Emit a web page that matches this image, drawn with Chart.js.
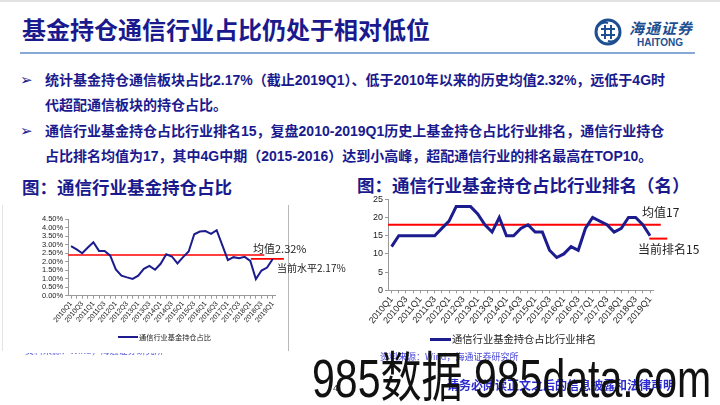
<!DOCTYPE html>
<html>
<head>
<meta charset="utf-8">
<script src="https://cdn.jsdelivr.net/npm/chart.js@4.4.1/dist/chart.umd.min.js"></script>
<style>
  body { margin: 0; background: #fff; }
  #slide { position: relative; width: 720px; height: 405px; overflow: hidden; background: #fff;
           font-family: "Liberation Sans", "Noto Sans CJK SC", sans-serif; }
  .abs { position: absolute; white-space: nowrap; }
  .navy { color: #1a1a8e; }
  .body { font-size: 14px; font-weight: bold; line-height: 20px; }
  canvas { position: absolute; }
</style>
</head>
<body>
<div id="slide">
  <div class="abs" style="left:0;top:0;width:720px;height:2px;background:#e2e2e2"></div>

  <!-- title -->
  <div class="abs navy" style="left:22px;top:14px;font-size:24px;font-weight:bold;line-height:30px;font-family:'Noto Sans CJK SC'">基金持仓通信行业占比仍处于相对低位</div>
  <div class="abs" style="left:20px;top:52px;width:675px;height:2px;background:#86a9d6"></div>

  <!-- logo -->
  <svg class="abs" style="left:592px;top:17px" width="34" height="32" viewBox="0 0 34 32">
    <circle cx="16" cy="15" r="12" fill="none" stroke="#1d4f91" stroke-width="3"/>
    <path d="M9 12 H23 M9 18 H23 M13 8 V22 M19 8 V22" stroke="#1d4f91" stroke-width="2" fill="none"/>
    <path d="M6 9 Q11 4 16 6 M26 21 Q21 26 16 24" stroke="#1d4f91" stroke-width="2" fill="none"/>
  </svg>
  <div class="abs" style="left:629px;top:17px;font-size:15px;font-weight:bold;font-style:italic;color:#1d4f91;letter-spacing:1px;font-family:'Noto Sans CJK SC'">海通证券</div>
  <div class="abs" style="left:637px;top:37px;font-size:10px;font-weight:bold;color:#1d4f91">HAITONG</div>

  <!-- bullets -->
  <div class="abs navy" style="left:20px;top:70px;font-size:15px;line-height:20px;font-family:'DejaVu Sans'">➢</div>
  <div class="abs navy body" style="left:45px;top:70px">统计基金持仓通信板块占比2.17%（截止2019Q1）、低于2010年以来的历史均值2.32%，远低于4G时</div>
  <div class="abs navy body" style="left:45px;top:95px">代超配通信板块的持仓占比。</div>
  <div class="abs navy" style="left:20px;top:121px;font-size:15px;line-height:20px;font-family:'DejaVu Sans'">➢</div>
  <div class="abs navy body" style="left:45px;top:121px">通信行业基金持仓占比行业排名15，复盘2010-2019Q1历史上基金持仓占比行业排名，通信行业持仓</div>
  <div class="abs navy body" style="left:45px;top:146px">占比排名均值为17，其中4G中期（2015-2016）达到小高峰，超配通信行业的排名最高在TOP10。</div>

  <!-- section headings -->
  <div class="abs navy" style="left:22px;top:175px;font-size:17.5px;font-weight:bold;line-height:24px;font-family:'Noto Sans CJK SC'">图：通信行业基金持仓占比</div>
  <div class="abs navy" style="left:357px;top:173px;font-size:17.5px;font-weight:bold;line-height:24px;font-family:'Noto Sans CJK SC'">图：通信行业基金持仓占比行业排名（名）</div>

  <!-- left panel -->
  <div class="abs" style="left:2px;top:205px;width:1px;height:146px;background:#e4e4e4"></div>
  <div class="abs" style="left:288px;top:205px;width:1px;height:146px;background:#b8b8b8"></div>
  <canvas id="shareChart" width="300" height="150" style="left:0;top:205px"></canvas>
  <div class="abs" style="left:253px;top:241px;font-size:11px;line-height:14px;color:#222;font-family:'Noto Sans CJK SC'">均值2.32%</div>
  <div class="abs" style="left:277px;top:261px;font-size:10px;line-height:14px;color:#222;font-family:'Noto Sans CJK SC'">当前水平2.17%</div>
  <div class="abs" style="left:118px;top:336px;width:20px;height:2px;background:#1c1c8f"></div>
  <div class="abs" style="left:139px;top:332px;font-size:7.2px;line-height:10px;color:#222;font-family:'Noto Sans CJK SC'">通信行业基金持仓占比</div>
  <div class="abs" style="left:0;top:353px;width:300px;height:3px;overflow:hidden">
    <div class="abs" style="left:25px;top:-8px;font-size:9px;line-height:12px;color:#5a5ad8;font-family:'Noto Sans CJK SC'">资料来源：Wind，海通证券研究所</div>
  </div>

  <!-- right panel -->
  <canvas id="rankChart" width="360" height="150" style="left:360px;top:190px"></canvas>
  <div class="abs" style="left:642px;top:204px;font-size:12px;line-height:16px;color:#222;font-family:'Noto Sans CJK SC'">均值17</div>
  <div class="abs" style="left:638px;top:241px;font-size:12px;line-height:16px;color:#222;font-family:'Noto Sans CJK SC'">当前排名15</div>
  <div class="abs" style="left:430px;top:338px;width:21px;height:3px;background:#1c1c8f"></div>
  <div class="abs" style="left:452px;top:332px;font-size:10.3px;line-height:14px;color:#222;font-family:'Noto Sans CJK SC'">通信行业基金持仓占比行业排名</div>
  <div class="abs" style="left:380px;top:350px;font-size:9px;line-height:13px;color:#4646d8;font-family:'Noto Sans CJK SC'">资料来源：Wind，海通证券研究所</div>

  <!-- footer -->
  <div class="abs" style="left:447px;top:377px;font-size:12px;font-weight:bold;line-height:16px;color:#2b2bd0;font-family:'Noto Sans CJK SC'">请务必阅读正文之后的信息披露和法律声明</div>
  <div class="abs" style="left:333px;top:382px;font-size:9px;line-height:12px;color:#333">4</div>
  <div class="abs" style="left:312px;top:351px;font-size:54px;line-height:54px;color:#111;transform:scaleX(0.76);transform-origin:left top">985数据 985data.com</div>
</div>

<script>
// quarters 2010Q1 .. 2019Q1
const quarters = ['2010Q1','2010Q2','2010Q3','2010Q4','2011Q1','2011Q2','2011Q3','2011Q4',
  '2012Q1','2012Q2','2012Q3','2012Q4','2013Q1','2013Q2','2013Q3','2013Q4',
  '2014Q1','2014Q2','2014Q3','2014Q4','2015Q1','2015Q2','2015Q3','2015Q4',
  '2016Q1','2016Q2','2016Q3','2016Q4','2017Q1','2017Q2','2017Q3','2017Q4',
  '2018Q1','2018Q2','2018Q3','2018Q4','2019Q1'];

// fund holding share of telecom (%)
const shareValues = [2.92,2.73,2.50,2.84,3.15,2.64,2.64,2.36,
  1.55,1.18,1.08,0.99,1.18,1.58,1.76,1.53,
  1.88,2.44,2.31,1.90,2.27,2.60,3.62,3.78,
  3.81,3.64,3.86,2.98,2.10,2.27,2.21,2.29,
  2.05,0.98,1.48,1.66,2.16];
const shareMean = 2.4, shareMeanSpan = [-0.5, 34.5];
const shareNow = 2.17, shareNowSpan = [32.1, 38.0];

// industry rank of telecom
const rankValues = [12,15,15,15,15,15,15,17,
  19,23,23,23,21,18,16,20,
  15,15,17,18,16,16,11,9,
  10,12,11,17,20,19,18,16,
  17,20,20,18,15];
const rankMean = 18, rankMeanSpan = [-0.5, 37.5];
const rankNow = 14.2, rankNowSpan = [35.9, 38.4];

const NAVY = '#1c1c8f';
const RED = '#ff0000';

function lineChart(id, c) {
  return new Chart(id, {
    type: 'line',
    data: {
      datasets: [
        { data: c.values.map((v, i) => ({x: i, y: v})), borderColor: NAVY, borderWidth: c.lw,
          pointRadius: 0, tension: 0, order: 1 },
        { data: c.meanSpan.map(x => ({x: x, y: c.mean})), borderColor: RED, borderWidth: c.rw,
          pointRadius: 0, clip: false, order: 2 },
        { data: c.nowSpan.map(x => ({x: x, y: c.now})), borderColor: RED, borderWidth: c.rw,
          pointRadius: 0, clip: false, order: 2 }
      ]
    },
    options: {
      animation: false,
      responsive: false,
      layout: {padding: {top: c.padTop, right: c.padRight, left: 0, bottom: 0}},
      plugins: {legend: {display: false}, tooltip: {enabled: false}},
      scales: {
        x: {
          type: 'linear', min: -0.5, max: 36.5,
          afterBuildTicks: s => { s.ticks = quarters.map((q, i) => ({value: i})); },
          afterFit: s => { s.height = c.xh; },
          grid: {drawOnChartArea: false, tickLength: 3, color: '#999'},
          border: {color: '#999'},
          ticks: {autoSkip: false, minRotation: 50, maxRotation: 50, padding: 1, color: '#222',
                  font: {family: 'Liberation Sans', size: c.xfont},
                  callback: v => (v % 2 === 0 ? quarters[v] : '')}
        },
        y: {
          min: 0, max: c.ymax,
          afterFit: s => { s.width = c.yw; },
          grid: {drawOnChartArea: false, tickLength: 3, color: '#999'},
          border: {color: '#999'},
          ticks: {stepSize: c.step, autoSkip: false, padding: 2, color: '#222',
                  font: {family: 'Liberation Sans', size: c.yfont},
                  callback: c.fmt}
        }
      }
    }
  });
}

lineChart('shareChart', {
  values: shareValues, mean: shareMean, meanSpan: shareMeanSpan, now: shareNow, nowSpan: shareNowSpan,
  lw: 2, rw: 1.6, padTop: 14.3, padRight: 24.5, xh: 59.3, yw: 68.2,
  ymax: 4.5, step: 0.5, xfont: 7, yfont: 7.5, fmt: v => v.toFixed(2) + '%'
});

lineChart('rankChart', {
  values: rankValues, mean: rankMean, meanSpan: rankMeanSpan, now: rankNow, nowSpan: rankNowSpan,
  lw: 3, rw: 2, padTop: 9.3, padRight: 66.4, xh: 49.7, yw: 28,
  ymax: 25, step: 5, xfont: 9, yfont: 9, fmt: v => v
});
</script>
</body>
</html>
